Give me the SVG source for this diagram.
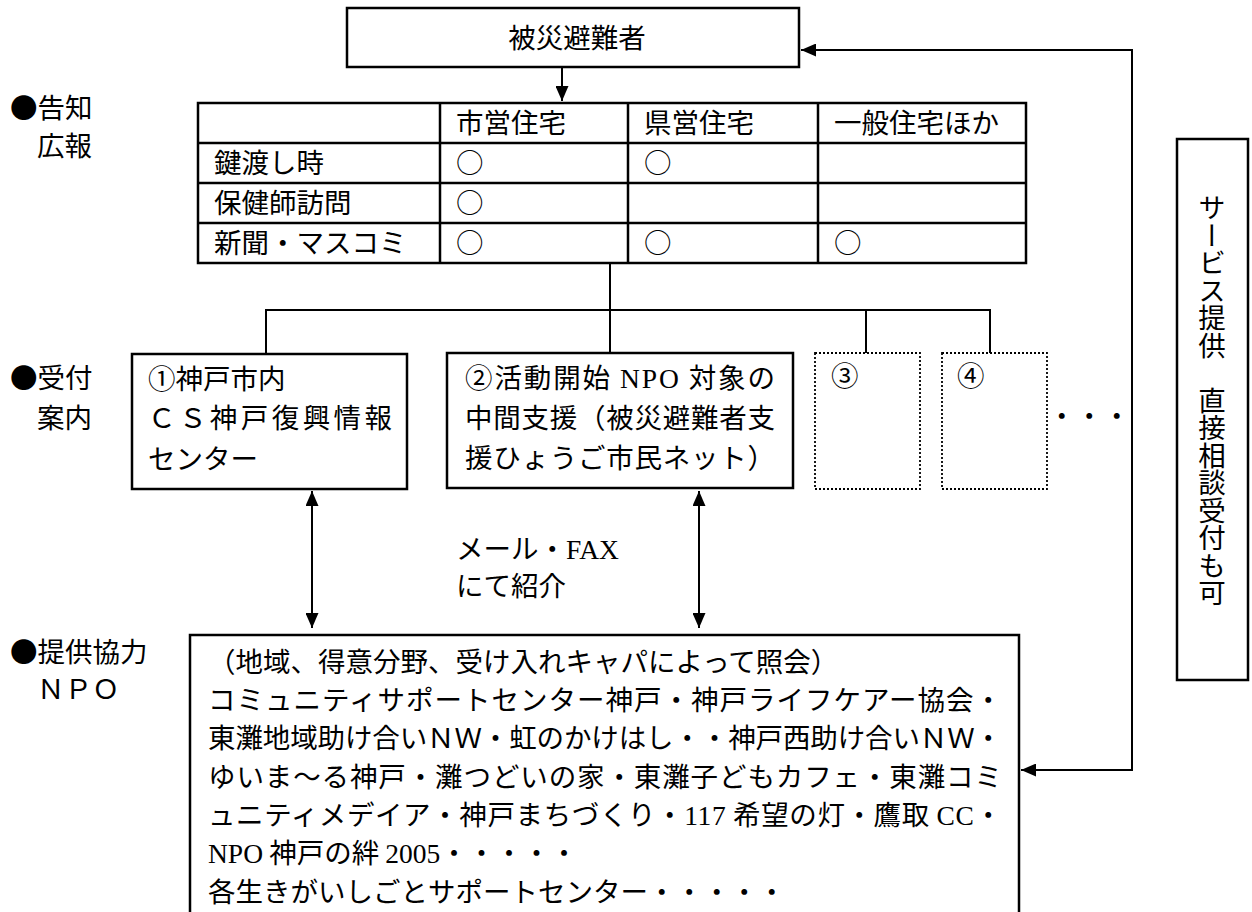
<svg xmlns="http://www.w3.org/2000/svg" width="1252" height="912" viewBox="0 0 1252 912">
<style>
text{font-family:"Noto Sans CJK JP","Liberation Serif",sans-serif;font-size:27.5px;fill:#000;}
.lat{font-family:"Liberation Serif","Noto Sans CJK JP",serif;}
.box{fill:#fff;stroke:#000;stroke-width:2.5;}
.dot{fill:#fff;stroke:#000;stroke-width:1.8;stroke-dasharray:2 2;}
.ln{fill:none;stroke:#000;stroke-width:2;}
.mid{text-anchor:middle;}
.vert{writing-mode:vertical-rl;}
</style>
<defs>
<marker id="ah" markerUnits="userSpaceOnUse" markerWidth="16" markerHeight="13" refX="15" refY="6.5" orient="auto-start-reverse">
<path d="M0,0 L15,6.5 L0,13 z" fill="#000"/>
</marker>
</defs>

<g id="labels">
<text x="10" y="118">●告知</text>
<text x="37" y="156">広報</text>
<text x="10" y="388">●受付</text>
<text x="37" y="428">案内</text>
<text x="10" y="662">●提供協力</text>
<text x="37" y="699">ＮＰＯ</text>
</g>

<g id="connectors">
<path class="ln" d="M562,67 V101" marker-end="url(#ah)"/>
<path class="ln" d="M610,263 V353"/>
<path class="ln" d="M266,354 V310 H990 V353"/>
<path class="ln" d="M866,310 V353"/>
<path class="ln" d="M312,491 V628" marker-start="url(#ah)" marker-end="url(#ah)"/>
<path class="ln" d="M699,491 V628" marker-start="url(#ah)" marker-end="url(#ah)"/>
<path class="ln" d="M801,50 H1132 V770 H1021" marker-start="url(#ah)" marker-end="url(#ah)"/>
<text x="456" y="559">メール・<tspan class="lat">FAX</tspan></text>
<text x="456" y="596">にて紹介</text>
<text x="1048" y="426">・・・</text>
</g>

<g id="evacuees">
<rect class="box" x="347" y="8" width="452" height="59"/>
<text class="mid" x="577" y="48">被災避難者</text>
</g>

<g id="notice-table">
<rect class="box" x="198" y="103" width="828" height="160"/>
<path class="ln" style="stroke-width:2.5" d="M198,143 H1026 M198,183 H1026 M198,223 H1026 M440,103 V263 M628,103 V263 M818,103 V263"/>
<text x="456" y="133">市営住宅</text>
<text x="644" y="133">県営住宅</text>
<text x="834" y="133">一般住宅ほか</text>
<text x="214" y="173">鍵渡し時</text>
<text x="456" y="173">○</text>
<text x="644" y="173">○</text>
<text x="214" y="213">保健師訪問</text>
<text x="456" y="213">○</text>
<text x="214" y="253">新聞・マスコミ</text>
<text x="456" y="253">○</text>
<text x="644" y="253">○</text>
<text x="834" y="253">○</text>
</g>

<g id="desk1">
<rect class="box" x="132" y="354" width="275" height="135"/>
<text x="148" y="389">①神戸市内</text>
<text x="148" y="428" textLength="244" lengthAdjust="spacing">ＣＳ神戸復興情報</text>
<text x="148" y="469">センター</text>
</g>

<g id="desk2">
<rect class="box" x="447" y="353" width="346" height="135"/>
<text x="465" y="388" textLength="310" lengthAdjust="spacing">②活動開始 <tspan class="lat">NPO</tspan> 対象の</text>
<text x="465" y="428" textLength="310" lengthAdjust="spacing">中間支援（被災避難者支</text>
<text x="465" y="468" textLength="310" lengthAdjust="spacing">援ひょうご市民ネット）</text>
</g>

<g id="desk3">
<rect class="dot" x="815" y="353" width="105" height="136"/>
<text x="831" y="386">③</text>
</g>

<g id="desk4">
<rect class="dot" x="942" y="353" width="105" height="136"/>
<text x="957" y="386">④</text>
</g>

<g id="service">
<rect class="box" x="1177" y="139" width="71" height="541"/>
<text class="vert" x="1212" y="194">サービス提供　直接相談受付も可</text>
</g>

<g id="npo">
<rect class="box" x="190" y="635" width="829" height="300"/>
<text x="208" y="672">（地域、得意分野、受け入れキャパによって照会）</text>
<text x="208" y="710" textLength="794" lengthAdjust="spacing">コミュニティサポートセンター神戸・神戸ライフケアー協会・</text>
<text x="208" y="748" textLength="794" lengthAdjust="spacing">東灘地域助け合いＮＷ・虹のかけはし・・神戸西助け合いＮＷ・</text>
<text x="208" y="787" textLength="794" lengthAdjust="spacing">ゆいま～る神戸・灘つどいの家・東灘子どもカフェ・東灘コミ</text>
<text x="208" y="825" textLength="794" lengthAdjust="spacing">ュニティメデイア・神戸まちづくり・<tspan class="lat">117</tspan> 希望の灯・鷹取 <tspan class="lat">CC</tspan>・</text>
<text x="208" y="863"><tspan class="lat">NPO</tspan> 神戸の絆 <tspan class="lat">2005</tspan>・・・・・</text>
<text x="208" y="902">各生きがいしごとサポートセンター・・・・・</text>
</g>
</svg>
